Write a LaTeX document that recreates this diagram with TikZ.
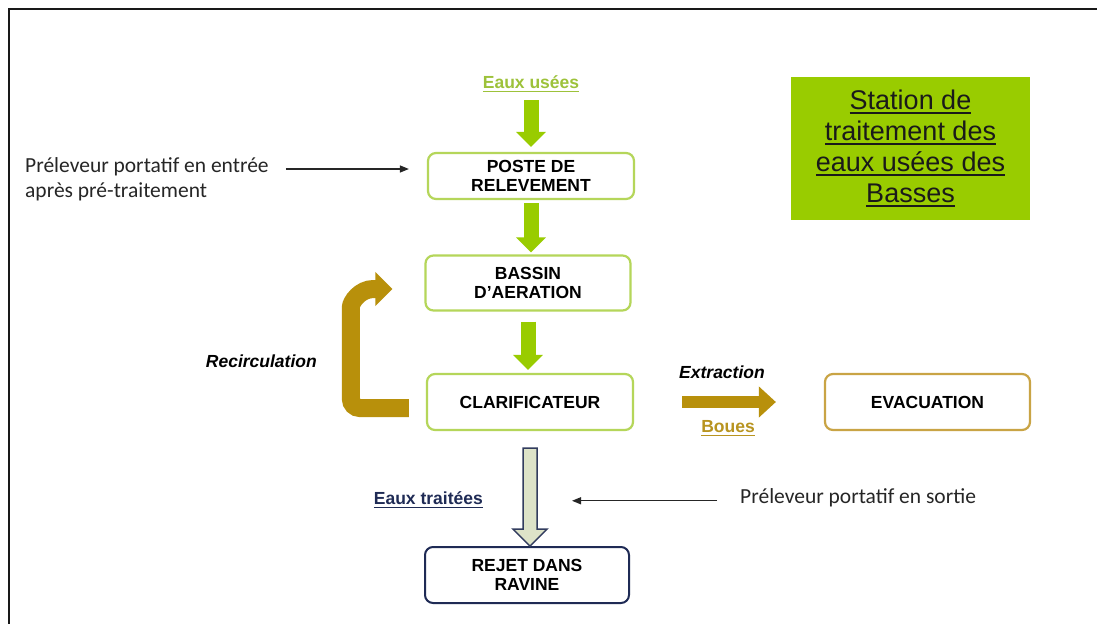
\documentclass[tikz,border=0pt]{standalone}
\usepackage{fontspec}
\setmainfont{Liberation Sans}
\newfontfamily\calib{Carlito}
\usetikzlibrary{arrows.meta,calc}
\definecolor{gfill}{HTML}{99CC00}
\definecolor{gbord}{HTML}{B5D65A}
\definecolor{gtext}{HTML}{9DC23A}
\definecolor{gold}{HTML}{B8900B}
\definecolor{goldtext}{HTML}{B89420}
\definecolor{goldbord}{HTML}{C9A445}
\definecolor{navy}{HTML}{1F2B55}
\definecolor{pale}{HTML}{DDE3C8}
\definecolor{ttext}{HTML}{1A1A1A}
\newcommand\myul[3]{\setbox0\hbox{#3}\rlap{\rule[-#1]{\wd0}{#2}}\box0}
\begin{document}
\begin{tikzpicture}[x=1pt,y=-1pt,
  boxstyle/.style={draw=gbord, line width=2.2pt, rounded corners=8pt, fill=white,
    minimum width=206pt, minimum height=50pt, align=center, inner sep=0pt,
    font=\bfseries\fontsize{17.5}{19}\selectfont},
  lbl/.style={inner sep=0pt, font=\bfseries\fontsize{17.5}{19}\selectfont},
  garrow/.style={draw=gfill, line width=15pt, -{Triangle[length=15pt,width=29pt]}},
  recirc/.style={draw=gold, line width=18pt, -{Triangle[length=17pt,width=33pt]}},
  oarrow/.style={draw=gold, line width=12pt, -{Triangle[length=17pt,width=30pt]}},
  tarrow/.style={draw=navy!80!gray, line width=1.5pt, fill=pale, line join=miter},
  thinarr/.style={draw=black!85, line width=1.3pt, -{Triangle[length=9pt,width=7pt]}},
  calibtext/.style={inner sep=0pt, font=\calib\fontsize{21.5}{25}\selectfont, text=black!85}
]
\useasboundingbox (0,0) rectangle (1097,624);
\fill[white] (0,0) rectangle (1097,624);
\draw[line width=2.5pt, black!90] (1097,9) -- (9,9) -- (9,624);

% boxes
\node[boxstyle, minimum height=46pt] (poste) at (531,176) {POSTE DE\\RELEVEMENT};
\node[boxstyle, minimum width=205pt, minimum height=55pt] (bassin) at (528,283) {BASSIN\\D’AERATION};
\node[boxstyle, minimum height=56pt] (clar) at (530,402) {CLARIFICATEUR};
\node[boxstyle, draw=goldbord, minimum width=205pt, minimum height=56pt] (evac) at (927.5,402) {EVACUATION};
\node[boxstyle, draw=navy, line width=2pt, minimum width=204pt, minimum height=56pt] (rejet) at (527,575) {REJET DANS\\RAVINE};

% title
\node[fill=gfill, minimum width=239pt, minimum height=143pt, inner sep=0pt, align=center,
  text=ttext, font=\fontsize{27}{31}\selectfont] (title) at (910.5,148.5)
  {\myul{4pt}{1.8pt}{Station de}\\\myul{4pt}{1.8pt}{traitement des}\\\myul{4pt}{1.8pt}{eaux usées des}\\\myul{4pt}{1.8pt}{Basses}};

% labels
\node[lbl, text=gtext, anchor=base] (usees) at (531,88) {\myul{4pt}{1.5pt}{Eaux usées}};
\node[lbl, anchor=base, font=\bfseries\itshape\fontsize{17.5}{19}\selectfont] (extr) at (722,378) {Extraction};
\node[lbl, text=goldtext, anchor=base] (boues) at (728,432) {\myul{4pt}{1.5pt}{Boues}};
\node[lbl, text=navy, anchor=base east] (traitees) at (483,504) {\myul{4pt}{1.5pt}{Eaux traitées}};
\node[lbl, anchor=base east, font=\bfseries\itshape\fontsize{17.5}{19}\selectfont] (recirclbl) at (317,367) {Recirculation};
\node[calibtext, anchor=base west] (sortie) at (740,503) {Préleveur portatif en sortie};
\node[calibtext, anchor=west, align=left] (entree) at (25,179) {Préleveur portatif en entrée\\après pré-traitement};

% green flow arrows
\draw[garrow] ([yshift=-8pt]usees.south) -- ($(usees.south |- poste.north)+(0,-5)$);
\draw[garrow] ($(poste.south)+(0,3)$) -- ($(poste.south |- bassin.north)+(0,-2)$);
\draw[garrow] ($(bassin.south)+(0,10)$) -- ($(bassin.south |- clar.north)+(0,-3)$);

% recirculation
\draw[recirc] ([xshift=-17pt,yshift=-6pt]clar.west) [rounded corners=9pt] -- ++(-58,0) -- ++(0,-92) [sharp corners]
  to[out=90,in=180] ([xshift=-51pt,yshift=-6pt]bassin.west) -- ([xshift=-32pt,yshift=-6pt]bassin.west);

% extraction
\draw[oarrow] ([xshift=48pt]clar.east) -- ([xshift=-48pt]evac.west);

% treated water arrow
\draw[tarrow] ($(clar.south)+(-7,17)$) -- ++(0,81) -- ++(-10,0) -- ++(17,17) -- ++(17,-17) -- ++(-10,0) -- ++(0,-81) -- cycle;

% sampler arrows
\draw[thinarr] ([xshift=-23pt,yshift=-3.5pt]sortie.west) -- ++(-145,0);
\draw[thinarr] ([xshift=17pt,yshift=10pt]entree.east) -- ([xshift=-18pt,yshift=7pt]poste.west);
\end{tikzpicture}
\end{document}
